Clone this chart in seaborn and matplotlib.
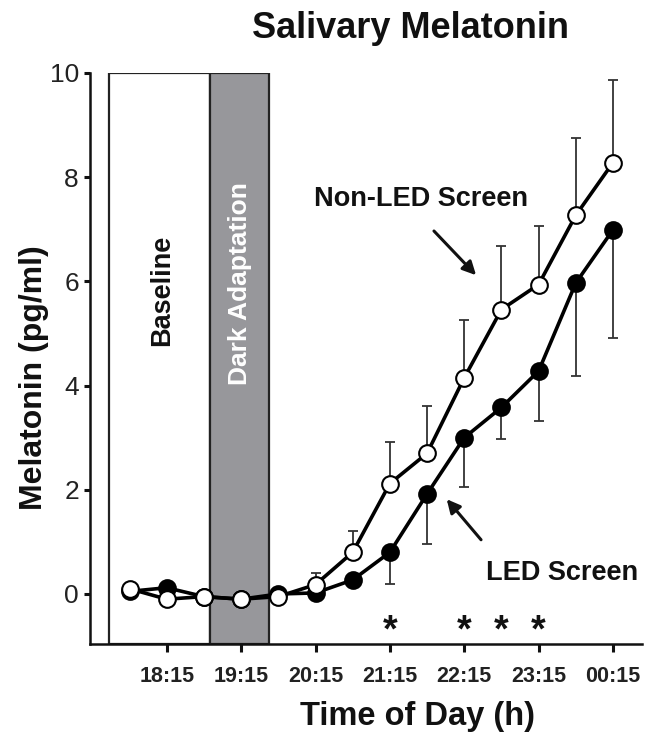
import matplotlib
matplotlib.use("Agg")
import matplotlib.pyplot as plt
import numpy as np
import pandas as pd
import seaborn as sns
from matplotlib.patches import Rectangle

# Sampling times in decimal hours (24.25 = 00:15 next day)
hours = [17.75, 18.25, 18.75, 19.25, 19.75, 20.25, 20.75,
         21.25, 21.75, 22.25, 22.75, 23.25, 23.75, 24.25]

# Mean salivary melatonin (pg/ml)
non_led = [0.10, -0.10, -0.05, -0.10, -0.05, 0.18, 0.80,
           2.12, 2.70, 4.15, 5.46, 5.94, 7.27, 8.28]
led = [0.05, 0.12, -0.05, -0.10, 0.00, 0.02, 0.27,
       0.80, 1.92, 3.00, 3.58, 4.28, 5.97, 6.99]

# SEM (upper bars for non-LED, lower bars for LED)
non_led_err = [0, 0, 0, 0, 0, 0.23, 0.40, 0.80, 0.90, 1.10, 1.22, 1.12, 1.48, 1.58]
led_err = [0, 0, 0, 0, 0, 0, 0, 0.60, 0.96, 0.95, 0.61, 0.96, 1.79, 2.08]

# Significant differences
star_hours = [21.25, 22.25, 22.75, 23.25]

tick_hours = [18.25, 19.25, 20.25, 21.25, 22.25, 23.25, 24.25]
tick_labels = ["18:15", "19:15", "20:15", "21:15", "22:15", "23:15", "00:15"]
y_ticks = [0, 2, 4, 6, 8, 10]

# Protocol phases (start, end) in hours
baseline_span = (17.47, 18.83)
dark_span = (18.83, 19.63)

sns.set_style("ticks")
plt.rcParams["font.family"] = ["Liberation Sans", "DejaVu Sans"]

df = pd.DataFrame({
    "hour": hours * 2,
    "melatonin": non_led + led,
    "condition": ["Non-LED Screen"] * len(hours) + ["LED Screen"] * len(hours),
})

fig = plt.figure(figsize=(6.46, 7.35), dpi=100)
ax = fig.add_axes([90 / 646, 1 - 644 / 735, (642 - 90) / 646, (644 - 73) / 735])

ax.set_xlim(17.218, 24.64)
ax.set_ylim(-0.96, 10)

# Protocol phase boxes
ax.add_patch(Rectangle((baseline_span[0], -0.96), baseline_span[1] - baseline_span[0], 10.96,
                       facecolor="white", edgecolor="#222222", lw=1.6, zorder=1))
ax.add_patch(Rectangle((dark_span[0], -0.96), dark_span[1] - dark_span[0], 10.96,
                       facecolor="#97979b", edgecolor="#222222", lw=1.6, zorder=1))
ax.text(18.19, 5.83, "Baseline", rotation=90, ha="center", va="center",
        fontsize=19.5, fontweight="bold", color="#111111", zorder=2)
ax.text(19.235, 5.95, "Dark Adaptation", rotation=90, ha="center", va="center",
        fontsize=19, fontweight="bold", color="white", zorder=2)

# Error bars
h = np.array(hours)
nl = np.array(non_led)
le = np.array(led)
ne = np.array(non_led_err)
lee = np.array(led_err)
m1 = ne > 0
ax.errorbar(h[m1], nl[m1], yerr=[np.zeros(m1.sum()), ne[m1]], fmt="none",
            ecolor="#333333", elinewidth=1.3, capsize=3.8, capthick=1.3, zorder=3)
m2 = lee > 0
ax.errorbar(h[m2], le[m2], yerr=[lee[m2], np.zeros(m2.sum())], fmt="none",
            ecolor="#333333", elinewidth=1.3, capsize=3.8, capthick=1.3, zorder=3)

# Lines with markers
sns.lineplot(data=df[df.condition == "LED Screen"], x="hour", y="melatonin",
             color="black", lw=2.6, marker="o", markersize=12,
             markerfacecolor="black", markeredgecolor="black", markeredgewidth=1.5,
             ax=ax, zorder=4, legend=False)
sns.lineplot(data=df[df.condition == "Non-LED Screen"], x="hour", y="melatonin",
             color="black", lw=2.6, marker="o", markersize=12,
             markerfacecolor="white", markeredgecolor="black", markeredgewidth=1.5,
             ax=ax, zorder=5, legend=False)

# Significance stars
for sh in star_hours:
    ax.text(sh, -0.72, "*", ha="center", va="center", fontsize=27,
            fontweight="bold", color="#111111")

# Labels with arrows
ax.text(21.67, 7.58, "Non-LED Screen", ha="center", va="center",
        fontsize=19.5, fontweight="bold", color="#111111")
ax.annotate("", xy=(22.435, 6.08), xytext=(21.817, 7.006),
            arrowprops=dict(arrowstyle="-|>", color="#111111", lw=2.2,
                            mutation_scale=20))
ax.text(23.56, 0.40, "LED Screen", ha="center", va="center",
        fontsize=19.5, fontweight="bold", color="#111111")
ax.annotate("", xy=(21.99, 1.86), xytext=(22.50, 1.00),
            arrowprops=dict(arrowstyle="-|>", color="#111111", lw=2.2,
                            mutation_scale=20))

# Axes styling
sns.despine(ax=ax)
for side in ["left", "bottom"]:
    ax.spines[side].set_linewidth(1.8)
    ax.spines[side].set_color("#111111")

ax.set_xticks(tick_hours)
ax.set_xticklabels(tick_labels, fontsize=15.5, fontweight="bold", color="#222222")
ax.set_yticks(y_ticks)
ax.set_yticklabels([str(v) for v in y_ticks], fontsize=19, color="#222222")
ax.tick_params(axis="x", length=6, width=2.2, direction="out", pad=10, color="#111111")
ax.tick_params(axis="y", length=4, width=2.2, direction="out", pad=4, color="#111111")

ax.set_xlabel("Time of Day (h)", fontsize=23.5, fontweight="bold", color="#111111")
ax.set_ylabel("Melatonin (pg/ml)", fontsize=23, fontweight="bold", color="#111111")
ax.xaxis.label.set_va("center")
ax.yaxis.label.set_va("center")
ax.xaxis.set_label_coords((418 - 90) / 552, (644 - 716) / 571)
ax.yaxis.set_label_coords((34 - 90) / 552, (644 - 378) / 571)

fig.text(410 / 646, 1 - 28 / 735, "Salivary Melatonin", ha="center", va="center",
         fontsize=26, fontweight="bold", color="#111111")

fig.savefig("out.png", dpi=100)
